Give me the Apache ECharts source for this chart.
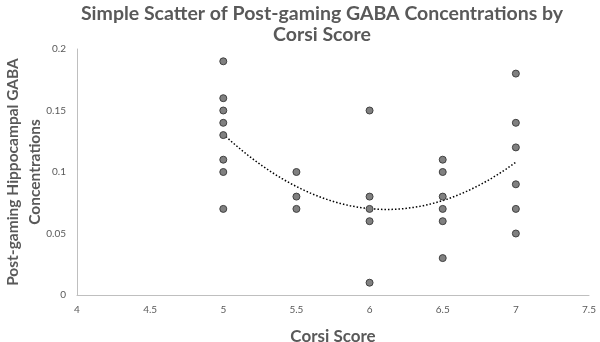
<!DOCTYPE html>
<html>
<head>
<meta charset="utf-8">
<script src="https://cdn.jsdelivr.net/npm/echarts@6/dist/echarts.min.js"></script>
<style>
  html,body{margin:0;padding:0;background:#fff;}
  #chart{width:600px;height:342px;}
</style>
</head>
<body>
<div id="chart"></div>
<script>
// corsi score of each participant
const corsi = [5,5,5,5,5,5,5,5, 5.5,5.5,5.5, 6,6,6,6,6, 6.5,6.5,6.5,6.5,6.5,6.5, 7,7,7,7,7,7]
// post-gaming GABA concentration of each participant
const gaba  = [0.19,0.16,0.15,0.14,0.13,0.11,0.10,0.07, 0.10,0.08,0.07, 0.15,0.08,0.07,0.06,0.01, 0.11,0.10,0.08,0.07,0.06,0.03, 0.18,0.14,0.12,0.09,0.07,0.05]
const xTicks = [4,4.5,5,5.5,6,6.5,7,7.5]
const yTicks = [0,0.05,0.1,0.15,0.2]

// 2nd order polynomial trendline (least squares, like excel)
const polyFit = (xs, ys) => {
  let s = [0,0,0,0,0], t = [0,0,0]
  xs.forEach((x,i)=>{
    for(let k=0;k<5;k++) s[k]+=Math.pow(x,k)
    for(let k=0;k<3;k++) t[k]+=Math.pow(x,k)*ys[i]
  })
  const A = [[s[0],s[1],s[2],t[0]],[s[1],s[2],s[3],t[1]],[s[2],s[3],s[4],t[2]]]
  for(let i=0;i<3;i++){
    for(let j=i+1;j<3;j++){
      const f = A[j][i]/A[i][i]
      for(let k=i;k<4;k++) A[j][k]-=f*A[i][k]
    }
  }
  const c=[0,0,0]
  for(let i=2;i>=0;i--){
    let v=A[i][3]
    for(let k=i+1;k<3;k++) v-=A[i][k]*c[k]
    c[i]=v/A[i][i]
  }
  return c
}
const coef = polyFit(corsi, gaba)
const xmin = Math.min(...corsi), xmax = Math.max(...corsi)
const trend = []
for(let i=0;i<=60;i++){
  const x = xmin+(xmax-xmin)*i/60
  trend.push([x, coef[0]+coef[1]*x+coef[2]*x*x])
}

const myChart = echarts.init(document.getElementById('chart'))
const option = {
  animation:false,
  title:{
    text:'Simple Scatter of Post-gaming GABA Concentrations by\nCorsi Score',
    left:317,
    textAlign:'center',
    top:-2,
    textStyle:{fontFamily:'Lato',fontWeight:'bold',fontSize:19.5,color:'#595959',lineHeight:21}
  },
  grid:{left:77,right:11,top:49,bottom:47,outerBoundsMode:'none',containLabel:false},
  xAxis:{
    type:'value',min:xTicks[0],max:xTicks[xTicks.length-1],interval:0.5,
    name:'Corsi Score',nameLocation:'middle',nameGap:33,nameMoveOverlap:false,
    nameTextStyle:{fontFamily:'Lato',fontWeight:'bold',fontSize:17,color:'#595959'},
    axisLine:{lineStyle:{color:'#bfbfbf',width:1}},
    axisTick:{show:false},
    splitLine:{show:false},
    axisLabel:{color:'#595959',fontSize:10,fontFamily:'Lato',margin:10}
  },
  yAxis:{
    type:'value',min:yTicks[0],max:yTicks[yTicks.length-1],interval:0.05,
    name:'Post-gaming Hippocampal GABA\nConcentrations',nameLocation:'middle',nameGap:31,nameMoveOverlap:false,
    nameTextStyle:{fontFamily:'Lato',fontWeight:'bold',fontSize:15.5,color:'#595959',lineHeight:22},
    axisLine:{show:true,lineStyle:{color:'#bfbfbf',width:1}},
    axisTick:{show:false},
    splitLine:{show:false},
    axisLabel:{color:'#595959',fontSize:10,fontFamily:'Lato',margin:11,
      formatter:v=>String(+v.toFixed(2))}
  },
  series:[
    {
      type:'line',data:trend,showSymbol:false,smooth:false,
      lineStyle:{color:'#000',width:1.5,type:[1.5,2]},z:3
    },
    {
      type:'scatter',data:corsi.map((x,i)=>[x,gaba[i]]),symbolSize:7,
      itemStyle:{color:'#808080',borderColor:'#404040',borderWidth:1,opacity:1},z:4
    }
  ]
}
myChart.setOption(option)
</script>
</body>
</html>
